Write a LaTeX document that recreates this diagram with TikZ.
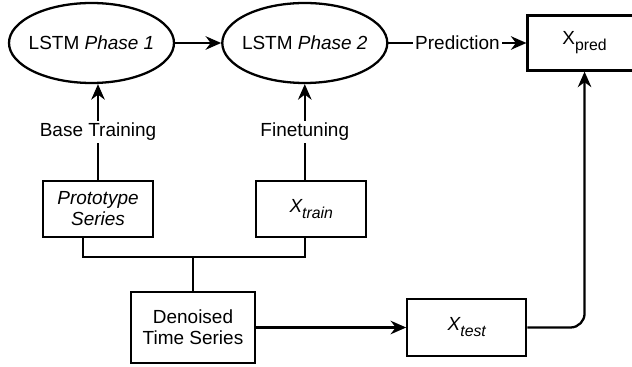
\documentclass[tikz,border=0pt]{standalone}
\usepackage{fontspec}
\setmainfont{Liberation Sans}
\usetikzlibrary{shapes,arrows.meta,positioning,calc}

\newcommand{\lsub}[1]{\raisebox{-0.6ex}{\fontsize{9}{9}\selectfont #1}}

\begin{document}
\begin{tikzpicture}[
    node distance=0.92cm and 2cm,
    model/.style={ellipse, draw, line width=1.3pt, minimum width=3.3cm,
                  minimum height=1.6cm, inner xsep=-0.12cm, inner ysep=0pt},
    block/.style={rectangle, draw, line width=1.3pt, align=center, inner sep=2pt},
    lbl/.style={fill=white, inner sep=1.5pt},
    conn/.style={line width=1.3pt},
    arr/.style={-{Stealth[length=3.1mm,width=2.7mm,inset=1mm]}, line width=1.3pt},
    font=\fontsize{10.8}{12}\selectfont,
  ]
    \useasboundingbox (0,0) rectangle (12.64,-7.34);

    % Models
    \node[model] (ph1) at (1.83,-0.86) {LSTM \textit{Phase 1}};
    \node[model, right=0.92cm of ph1] (ph2) {LSTM \textit{Phase 2}};
    \node[block, right=2.76cm of ph2, minimum width=2.28cm, minimum height=1.1cm]
        (pred) {X\lsub{pred}};

    % Data
    \node[block, minimum width=2.2cm, minimum height=1.12cm] (proto) at (1.96,-4.18)
        {\textit{Prototype}\\\textit{Series}};
    \node[block, right=2.02cm of proto, minimum width=2.2cm, minimum height=1.12cm]
        (xtrain) {\textit{X\lsub{train}}};
    \node[block, minimum width=2.48cm, minimum height=1.42cm] (den) at (3.86,-6.55)
        {Denoised\\Time Series};
    \node[block, right=3.0cm of den, minimum width=2.38cm, minimum height=1.14cm]
        (xtest) {\textit{X\lsub{test}}};
    \coordinate (jn) at (den.north |- 0,-5.14);

    % Arrows
    \draw[arr] (ph1) -- (ph2);
    \draw[arr] (ph2) -- node[lbl] {Prediction} (pred);
    \draw[arr] (proto.north) -- node[lbl] (bt) {Base Training} (proto.north |- ph1.south);
    \draw[arr] (ph2.south |- xtrain.north) -- node[lbl] (ft) {Finetuning} (ph2.south);
    \draw[conn] ([xshift=-0.3cm]proto.south) |- (jn) -| (ph2.south |- xtrain.south);
    \draw[conn] (den.north) -- (jn);
    \draw[arr] (den) -- (xtest);
    \draw[arr, rounded corners=8pt] (xtest.east) -| (pred.south);
  \end{tikzpicture}
\end{document}
